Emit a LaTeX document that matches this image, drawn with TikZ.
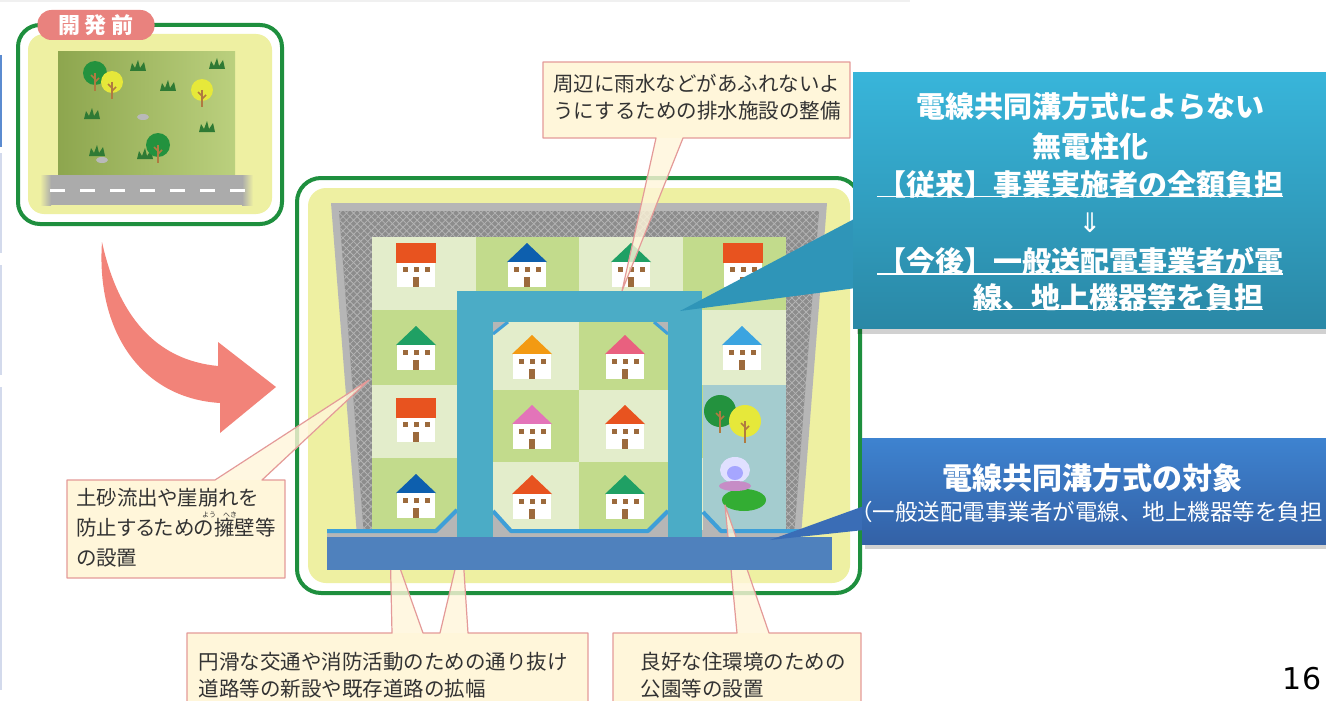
\documentclass[tikz,border=0pt]{standalone}
\usepackage{fontspec}
\setmainfont{Noto Sans CJK JP}
\newfontfamily\symfont{DejaVu Sans}
\usetikzlibrary{patterns.meta}

\definecolor{panelgreen}{HTML}{1E8F3E}
\definecolor{panelyellow}{HTML}{EEF0A2}
\definecolor{tagpink}{HTML}{E9827E}
\definecolor{fielddark}{HTML}{8DA64E}
\definecolor{fieldlight}{HTML}{BBD07E}
\definecolor{roadgray}{HTML}{ABABAB}
\definecolor{grassgreen}{HTML}{2F7A34}
\definecolor{treegreen}{HTML}{23923E}
\definecolor{treeyellow}{HTML}{E6E83A}
\definecolor{trunk}{HTML}{B07A40}
\definecolor{arrowpink}{HTML}{F28379}
\definecolor{wallgray}{HTML}{B6B6B6}
\definecolor{meshgray}{HTML}{8C8C8C}
\definecolor{meshline}{HTML}{B4B4B4}
\definecolor{lotlight}{HTML}{E3EDCB}
\definecolor{lotdark}{HTML}{C2DB8C}
\definecolor{parkblue}{HTML}{A4CCCF}
\definecolor{edgeline}{HTML}{3E9FD8}
\definecolor{window}{HTML}{9C6A3C}
\definecolor{roofred}{HTML}{E8531F}
\definecolor{roofblue}{HTML}{0D5FAE}
\definecolor{roofgreen}{HTML}{1FA064}
\definecolor{roofsky}{HTML}{3BA4E0}
\definecolor{rooforange}{HTML}{F39A12}
\definecolor{roofpink}{HTML}{E9607F}
\definecolor{roofmagenta}{HTML}{E374B9}
\definecolor{notefill}{HTML}{FFF6DA}
\definecolor{noteline}{HTML}{E49A98}
\definecolor{notetext}{HTML}{333333}
\definecolor{roadblue}{HTML}{4BACC6}
\definecolor{barblue}{HTML}{4F81BD}
\definecolor{oldtop}{HTML}{38B5DA}
\definecolor{oldbottom}{HTML}{2A88A6}
\definecolor{oldtip}{HTML}{2F95B8}
\definecolor{newtop}{HTML}{3E83D0}
\definecolor{newbottom}{HTML}{3361A6}
\definecolor{newtip}{HTML}{3A6DB6}
\definecolor{edgeblue}{HTML}{5B8BD0}
\definecolor{edgelilac}{HTML}{D3DAEC}

% small pieces of scenery, coordinates in pixels
\newcommand{\tuft}[2]{%
  \fill[grassgreen] (#1-8,#2+4) -- (#1-6,#2-4) -- (#1-3,#2+1) -- (#1,#2-7)
    -- (#1+2,#2+1) -- (#1+6,#2-5) -- (#1+8,#2+4) -- cycle;}
\newcommand{\shrub}[4]{%
  \fill[#3] (#1,#2) circle [radius=#4];
  \draw[trunk, line width=2.5] (#1,#2) -- (#1,#2+#4+6);
  \draw[trunk, line width=1.5] (#1,#2+6) -- (#1-4,#2+2) (#1,#2+9) -- (#1+4,#2+5);}
\newcommand{\lothouse}[3]{%
  \fill[#3] (#1-20,#2+19) -- (#1,#2) -- (#1+20,#2+19) -- cycle;
  \fill[white] (#1-19,#2+19) rectangle (#1+19,#2+44);
  \foreach \wx in {-11,0,11}
    \fill[window] (#1+\wx-2.5,#2+24) rectangle (#1+\wx+2.5,#2+29);
  \fill[window] (#1-3,#2+34) rectangle (#1+3,#2+44);}
\newcommand{\flathouse}[3]{%
  \fill[#3] (#1-20,#2) rectangle (#1+20,#2+20);
  \fill[white] (#1-19,#2+20) rectangle (#1+19,#2+44);
  \foreach \wx in {-11,0,11}
    \fill[window] (#1+\wx-2.5,#2+24) rectangle (#1+\wx+2.5,#2+29);
  \fill[window] (#1-3,#2+34) rectangle (#1+3,#2+44);}

\begin{document}
\begin{tikzpicture}
  [%%%%%%%%%%%%%%%%%%%%%%%%%%%%%%
  x=1pt, y=-1pt,
  tag/.style={fill=tagpink, rounded corners=14, text=white, inner sep=0,
    minimum width=117, minimum height=30, font=\bfseries\fontsize{22}{22}\selectfont},
  notebox/.style={fill=notefill},
  notetip/.style={fill=notefill, fill opacity=.8},
  noteedge/.style={draw=noteline, line width=1.2, line join=round},
  notetext/.style={text=notetext, align=left, inner sep=0,
    font=\fontsize{20.5}{27}\selectfont},
  bluetext/.style={text=white, inner sep=0, font=\bfseries\fontsize{29}{29}\selectfont},
  lot0/.style={fill=lotlight},
  lot1/.style={fill=lotdark},
  ]%%%%%%%%%%%%%%%%%%%%%%%%%%%%%%

  \useasboundingbox (0,0) rectangle (1326,701);
  \fill[white] (0,0) rectangle (1326,701);
  \draw[gray!12, line width=2] (0,1) -- (910,1);
  \draw[edgeblue, line width=2] (1,55) -- (1,147);
  \foreach \ya/\yb in {153/253,265/375,387/690}
    \draw[edgelilac, line width=2] (1,\ya) -- (1,\yb);

  % before
  \draw[panelgreen, line width=4, rounded corners=22] (18,25) rectangle (282,224);
  \fill[panelyellow, rounded corners=16] (28,34) rectangle (272,214);
  \shade[left color=fielddark, right color=fieldlight] (58,52) rectangle (235,175);
  \fill[roadgray] (50,175) rectangle (243,205);
  \shade[left color=panelyellow, right color=roadgray] (40,175) rectangle (51,205);
  \shade[left color=roadgray, right color=panelyellow] (242,175) rectangle (253,205);
  \draw[white, line width=3, dash pattern=on 15pt off 15pt] (50,190) -- (246,190);
  \foreach \gx/\gy in {138/67,217/65,168/87,92/115,207/128,97/152,145/155}
    \tuft{\gx}{\gy};
  \fill[gray!55] (143,117) ellipse [x radius=6, y radius=3];
  \fill[gray!55] (102,160) ellipse [x radius=6, y radius=3];
  \shrub{95}{73}{treegreen}{12}
  \shrub{112}{82}{treeyellow}{11}
  \shrub{202}{90}{treeyellow}{11}
  \shrub{158}{145}{treegreen}{12}
  \node[tag] (beforetag) at (96,25) {開\hspace{5pt}発\hspace{5pt}前};

  % arrow
  \fill[arrowpink] (102,242) .. controls (118,315) and (155,360) .. (218,366)
    -- (218,342) -- (276,387) -- (220,433) -- (220,403)
    .. controls (140,398) and (96,330) .. (102,242) -- cycle;

  % after
  \draw[panelgreen, line width=4, rounded corners=24] (297,178) rectangle (860,593);
  \fill[panelyellow, rounded corners=18] (308,188) rectangle (850,583);
  \fill[wallgray] (331,203) -- (827,203) -- (801,536) -- (357,536) -- cycle;
  \path[fill=meshgray,
    postaction={pattern={Lines[angle=45,distance=5pt,line width=.8pt]}, pattern color=meshline},
    postaction={pattern={Lines[angle=-45,distance=5pt,line width=.8pt]}, pattern color=meshline}]
    (339,211) -- (819,211) -- (794,536) -- (364,536) -- cycle;

  \foreach \col/\xa/\xb in {0/372/476,1/476/579,2/579/683,3/683/786}
    \foreach \row/\ya/\yb in {0/237/310,1/310/385,2/385/458,3/458/530}{
      \pgfmathtruncatemacro{\lotc}{mod(\col+\row,2)}
      \fill[lot\lotc] (\xa,\ya) rectangle (\xb,\yb);
    }
  \foreach \col/\xa/\xb in {0/493/579,1/579/668}
    \foreach \row/\ya/\yb in {0/322/390,1/390/462,2/462/530}{
      \pgfmathtruncatemacro{\lotc}{mod(\col+\row,2)}
      \fill[lot\lotc] (\xa,\ya) rectangle (\xb,\yb);
    }
  \fill[parkblue] (703,385) rectangle (786,530);

  % kerbs
  \fill[wallgray] (327,530) rectangle (800,537);
  \fill[wallgray] (436,531) -- (457,510) -- (457,531) -- cycle;
  \fill[wallgray] (493,322) -- (508,322) -- (493,334) -- cycle;
  \fill[wallgray] (654,322) -- (668,322) -- (668,334) -- cycle;
  \fill[wallgray] (493,511) -- (511,531) -- (493,531) -- cycle;
  \fill[wallgray] (648,531) -- (668,511) -- (668,531) -- cycle;
  \fill[wallgray] (703,512) -- (721,531) -- (703,531) -- cycle;
  \begin{scope}[edgeline, line width=4, line join=round]
    \draw (327,531) -- (436,531) -- (457,510);
    \draw (493,511) -- (511,531) -- (648,531) -- (668,511);
    \draw (703,512) -- (721,531) -- (800,531);
    \draw[line width=3] (493,334) -- (508,322);
    \draw[line width=3] (654,322) -- (668,334);
  \end{scope}

  % houses
  \flathouse{416}{243}{roofred}
  \lothouse{527}{243}{roofblue}
  \lothouse{631}{243}{roofgreen}
  \flathouse{743}{243}{roofred}
  \lothouse{416}{326}{roofgreen}
  \lothouse{742}{326}{roofsky}
  \flathouse{416}{398}{roofred}
  \lothouse{416}{474}{roofblue}
  \lothouse{532}{335}{rooforange}
  \lothouse{625}{335}{roofpink}
  \lothouse{532}{405}{roofmagenta}
  \lothouse{625}{405}{roofred}
  \lothouse{532}{475}{roofred}
  \lothouse{625}{475}{roofgreen}

  % park
  \shrub{720}{411}{treegreen}{16}
  \shrub{745}{421}{treeyellow}{16}
  \fill[green!60!black!80] (744,500) ellipse [x radius=22, y radius=11];
  \fill[blue!12!white] (735,470) ellipse [x radius=15, y radius=13];
  \fill[blue!35!white] (735,473) ellipse [x radius=8, y radius=7];
  \fill[violet!45!white] (735,486) ellipse [x radius=16, y radius=5];

  % callouts
  \coordinate (draintip) at (622,291);
  \coordinate (walltip) at (369,380);
  \coordinate (roadtipa) at (390,540);
  \coordinate (roadtipb) at (462,540);
  \coordinate (parktip) at (725,505);

  \fill[notebox] (543,62) rectangle (850,138);
  \fill[notetip] (656,137) -- (draintip) -- (683,137) -- cycle;
  \draw[noteedge] (656,138) -- (543,138) -- (543,62) -- (850,62) -- (850,138)
    -- (683,138) -- (draintip) -- cycle;
  \node[notetext] (drain) at (697,97) {周辺に雨水などがあふれないよ\\うにするための排水施設の整備};

  \fill[notebox] (67,480) rectangle (285,578);
  \fill[notetip] (215,481) -- (walltip) -- (262,481) -- cycle;
  \draw[noteedge] (215,480) -- (67,480) -- (67,578) -- (285,578) -- (285,480)
    -- (262,480) -- (walltip) -- cycle;
  \node[notetext, font=\fontsize{20.5}{30}\selectfont\addfontfeatures{RawFeature=+palt}]
    (wall) at (176,528) {土砂流出や崖崩れを\\防止するための擁壁等\\の設置};
  \node[text=notetext, font=\fontsize{7}{7}\selectfont, inner sep=0] (rubya) at (209,515) {よう};
  \node[text=notetext, font=\fontsize{7}{7}\selectfont, inner sep=0] (rubyb) at (230,515) {へき};

  \fill[notebox] (187,633) rectangle (588,701);
  \fill[notetip] (392,634) -- (roadtipa) -- (423,634) -- cycle;
  \fill[notetip] (440,634) -- (roadtipb) -- (468,634) -- cycle;
  \draw[noteedge] (187,702) -- (187,633) -- (392,633) -- (roadtipa) -- (423,633)
    -- (440,633) -- (roadtipb) -- (468,633) -- (588,633) -- (588,702);
  \node[notetext] (road) at (383,675) {円滑な交通や消防活動のための通り抜け\\道路等の新設や既存道路の拡幅};

  \fill[notebox] (613,633) rectangle (861,701);
  \fill[notetip] (737,634) -- (parktip) -- (769,634) -- cycle;
  \draw[noteedge] (613,702) -- (613,633) -- (737,633) -- (parktip) -- (769,633)
    -- (861,633) -- (861,702);
  \node[notetext] (park) at (743,675) {良好な住環境のための\\公園等の設置};

  % through road and widened road
  \fill[roadblue] (457,291) rectangle (493,537);
  \fill[roadblue] (457,291) rectangle (702,322);
  \fill[roadblue] (668,291) rectangle (702,537);
  \fill[barblue] (327,537) rectangle (832,570);

  % joint ducts
  \coordinate (oldtip) at (680,311);
  \coordinate (newtip) at (770,540);
  \fill[black, opacity=.18] (857,78) rectangle (1326,334);
  \fill[oldtip] (856,218) -- (oldtip) -- (856,288) -- cycle;
  \shade[top color=oldtop, bottom color=oldbottom] (853,73) rectangle (1326,328);
  \node[bluetext] (old1) at (1090,107) {電線共同溝方式によらない};
  \node[bluetext] (old2) at (1090,146) {無電柱化};
  \node[bluetext] (old3) at (1080,184) {【従来】事業実施者の全額負担};
  \node[text=white, inner sep=0, font=\symfont\fontsize{27}{27}\selectfont] (old4) at (1090,223) {⇓};
  \node[bluetext] (old5) at (1080,261) {【今後】一般送配電事業者が電};
  \node[bluetext] (old6) at (1118,297) {線、地上機器等を負担};
  \foreach \n in {old3,old5,old6}
    \draw[white, line width=1.6] ([yshift=1.5pt]\n.south west) -- ([yshift=1.5pt]\n.south east);

  \fill[black, opacity=.18] (865,442) rectangle (1326,549);
  \fill[newtip] (864,506) -- (newtip) -- (864,530) -- cycle;
  \shade[top color=newtop, bottom color=newbottom] (862,438) rectangle (1326,544);
  \node[bluetext, font=\bfseries\fontsize{30}{30}\selectfont] (new1) at (1092,478) {電線共同溝方式の対象};
  \node[text=white, inner sep=0, anchor=west, font=\fontsize{22.5}{22.5}\selectfont]
    (new2) at (850,512) {（一般送配電事業者が電線、地上機器等を負担};

  \node[font=\symfont\fontsize{30}{30}\selectfont, inner sep=0] (pageno) at (1302,679) {16};
\end{tikzpicture}
\end{document}
